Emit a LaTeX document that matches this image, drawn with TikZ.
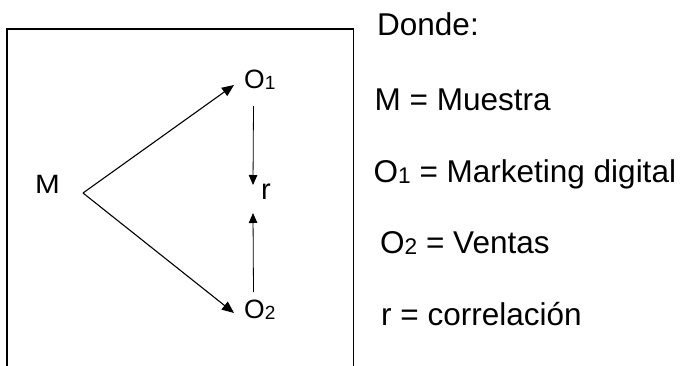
\documentclass[tikz,border=0pt]{standalone}
\usepackage{fontspec}
\setmainfont{Liberation Sans}
\usetikzlibrary{arrows.meta}
\newcommand\sbs[1]{\raisebox{-1.2pt}{\scalebox{0.72}{#1}}}
\begin{document}
\begin{tikzpicture}[x=1pt,y=-1pt,
  dglab/.style={inner sep=0pt,font=\fontsize{26.5}{31}\selectfont},
  leg/.style={inner sep=0pt,anchor=base west,font=\fontsize{31.5}{37}\selectfont},
  conn/.style={line width=1.1pt,-{Triangle[length=12pt,width=10pt]}},
  vconn/.style={conn,line width=0.8pt,-{Triangle[length=10pt,width=8.5pt]}},
  frame/.style={line width=1.4pt}]
\useasboundingbox (0,0) rectangle (686,365);
\draw[frame] (7,368) -- (7,29) -- (353.5,29) -- (353.5,368);
% diagram labels
\node[dglab,anchor=base east] (M) at (60,193) {\scalebox{1.12}[1]{M}};
\node[dglab,anchor=base west] (O1) at (244,88) {O\sbs{1}};
\node[dglab,anchor=base west] (O2) at (244,318.5) {O\sbs{2}};
\node[dglab,anchor=base west,font=\fontsize{29}{33}\selectfont] (r) at (261,199) {r};
\coordinate (v) at ([shift={(23,0)}]M.base east);
% connectors
\draw[conn] (v) -- ([shift={(-10,-3)}]O1.base west);
\draw[conn] (v) -- ([shift={(-10,-5.5)}]O2.base west);
\draw[vconn] ([shift={(9.5,18)}]O1.base west) -- ([shift={(-8,-14)}]r.base west);
\draw[vconn] ([shift={(9.5,-26.5)}]O2.base west) -- ([shift={(-8,14)}]r.base west);
% legend
\node[leg] (d) at (377,35.5) {Donde:};
\node[leg] (lm) at (374.5,110) {M = Muestra};
\node[leg] (lo1) at (373.5,182) {O\sbs{1} = Marketing digital};
\node[leg] (lo2) at (380,253) {O\sbs{2} = Ventas};
\node[leg] (lr) at (381,325) {r = correlación};
\end{tikzpicture}
\end{document}
